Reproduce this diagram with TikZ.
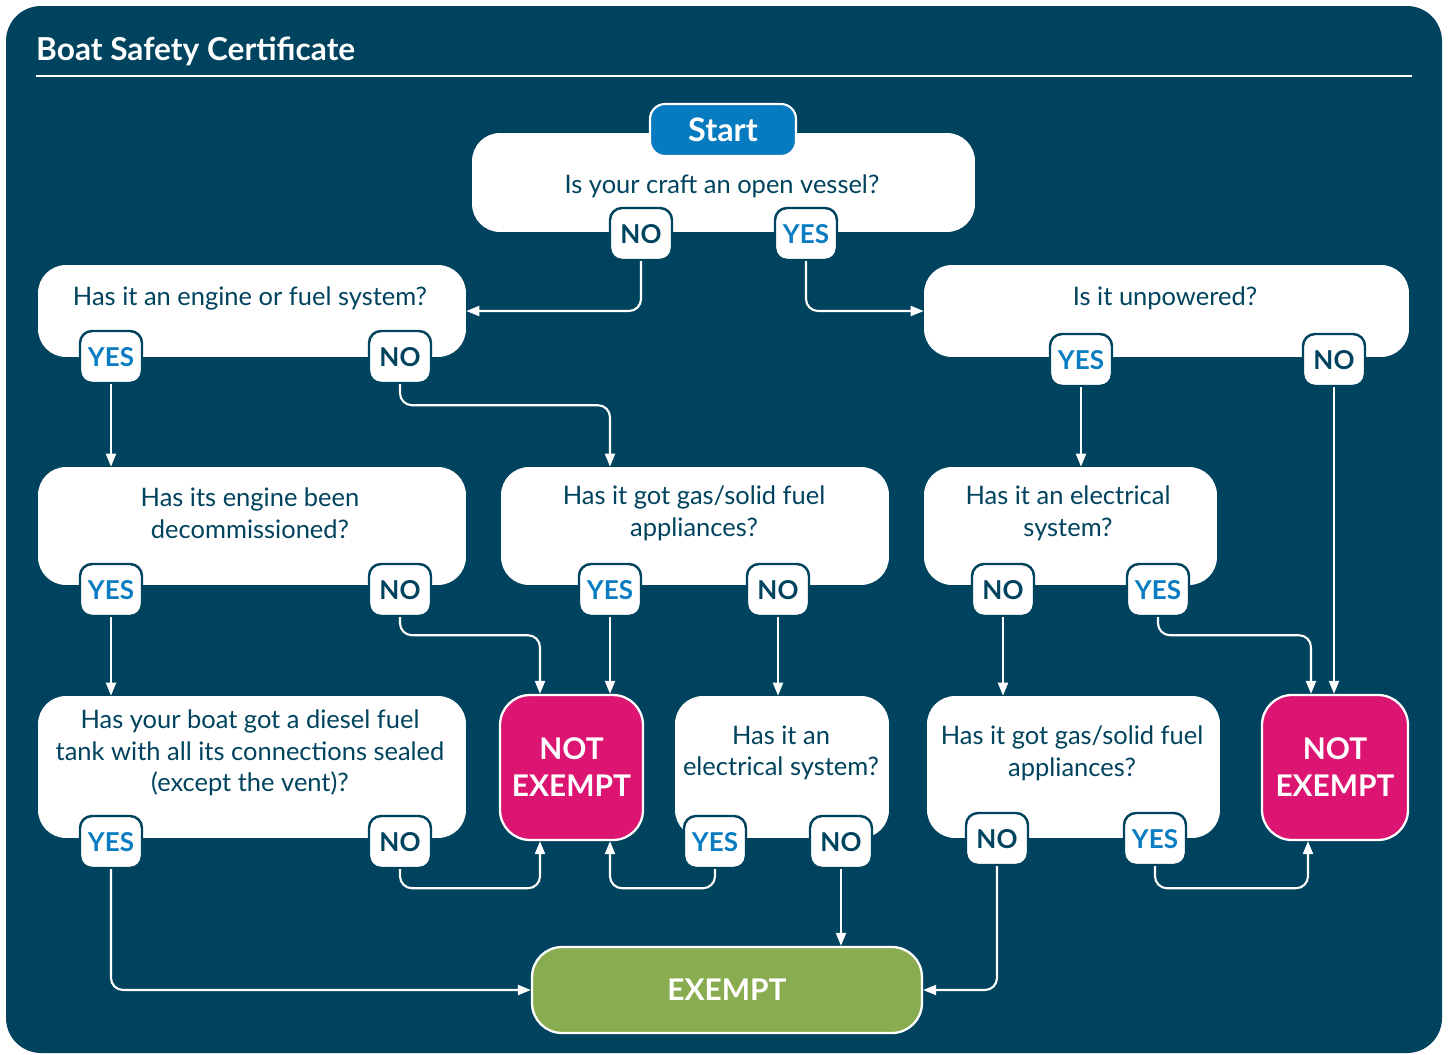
\documentclass[tikz,border=0pt]{standalone}
\usepackage{fontspec}
\setmainfont{Lato}
\usetikzlibrary{arrows.meta}

\definecolor{bgblue}{HTML}{00435E}
\definecolor{startblue}{HTML}{077BC0}
\definecolor{yesblue}{HTML}{0A7DC2}
\definecolor{nepink}{HTML}{DC1572}
\definecolor{exgreen}{HTML}{8AAC50}

\begin{document}
\begin{tikzpicture}[x=0.02cm,y=-0.02cm,
  qbox/.style={draw=none,fill=white,rounded corners=0.56cm},
  qtext/.style={text=bgblue,align=center,font=\fontsize{14.5}{18}\selectfont},
  tag/.style={draw=bgblue,line width=1.4pt,fill=white,rounded corners=0.24cm,
    minimum width=1.24cm,minimum height=1.04cm,inner sep=0pt,
    font=\bfseries\fontsize{14.8}{16}\selectfont},
  yestag/.style={tag,text=yesblue},
  notag/.style={tag,text=bgblue},
  endbox/.style={draw=white,line width=1.3pt,rounded corners=0.6cm,text=white,
    align=center,inner sep=0pt,font=\bfseries\fontsize{17}{21}\selectfont},
  link/.style={draw=white,line width=1.2pt,rounded corners=0.24cm,
    -{Triangle[length=0.26cm,width=0.2cm]}}]

\useasboundingbox (0,0) rectangle (1448,1055);
\fill[white] (0,0) rectangle (1448,1055);
\fill[bgblue,rounded corners=0.7cm] (6,6) rectangle (1442,1053);

% title
\node[anchor=west,text=white,font=\bfseries\fontsize{18}{22}\selectfont] (title) at (30,51) {Boat Safety Certificate};
\draw[white,line width=1.2pt] (36,76) -- (1412,76);

% questions
\node[qbox,minimum width=10.06cm,minimum height=1.98cm] (q1) at (723.5,182.5) {};
\node[qtext] (q1t) at (722,186) {Is your craft an open vessel?};
\node[draw=white,line width=1.2pt,fill=startblue,rounded corners=0.3cm,minimum width=2.92cm,
  minimum height=1.04cm,text=white,font=\bfseries\fontsize{18.4}{22}\selectfont] (start) at (723,130) {Start};

\node[qbox,minimum width=8.56cm,minimum height=1.84cm] (q2) at (252,311) {};
\node[qtext] (q2t) at (250,298) {Has it an engine or fuel system?};
\node[qbox,minimum width=9.7cm,minimum height=1.84cm] (q3) at (1166.5,311) {};
\node[qtext] (q3t) at (1165,298) {Is it unpowered?};

\node[qbox,minimum width=8.56cm,minimum height=2.36cm] (q4) at (252,526) {};
\node[qtext] (q4t) at (250,513) {Has its engine been\\decommissioned?};
\node[qbox,minimum width=7.76cm,minimum height=2.36cm] (q5) at (695,526) {};
\node[qtext] (q5t) at (694,513) {Has it got gas/solid fuel\\appliances?};
\node[qbox,minimum width=5.86cm,minimum height=2.36cm] (q6) at (1070.5,526) {};
\node[qtext] (q6t) at (1068,513) {Has it an electrical\\system?};

\node[qbox,minimum width=8.56cm,minimum height=2.84cm] (q7) at (252,767) {};
\node[qtext] (q7t) at (250,753) {Has your boat got a diesel fuel\\tank with all its connections sealed\\(except the vent)?};
\node[qbox,minimum width=4.28cm,minimum height=2.84cm] (q8) at (782,767) {};
\node[qtext] (q8t) at (781,753) {Has it an\\electrical system?};
\node[qbox,minimum width=5.86cm,minimum height=2.84cm] (q9) at (1073.5,767) {};
\node[qtext] (q9t) at (1072,753) {Has it got gas/solid fuel\\appliances?};

% outcomes
\node[endbox,fill=nepink,minimum width=2.86cm,minimum height=2.9cm] (ne1) at (571.5,767.5) {NOT\\EXEMPT};
\node[endbox,fill=nepink,minimum width=2.92cm,minimum height=2.9cm] (ne2) at (1335,767.5) {NOT\\EXEMPT};
\node[endbox,fill=exgreen,minimum width=7.8cm,minimum height=1.72cm] (ex) at (727,990) {EXEMPT};

% answers
\node[notag] (q1no) at (641,234) {NO};
\node[yestag] (q1yes) at (806,234) {YES};
\node[yestag] (q2yes) at (111,357) {YES};
\node[notag] (q2no) at (400,357) {NO};
\node[yestag] (q3yes) at (1081,360) {YES};
\node[notag] (q3no) at (1334,360) {NO};
\node[yestag] (q4yes) at (111,590) {YES};
\node[notag] (q4no) at (400,590) {NO};
\node[yestag] (q5yes) at (610,590) {YES};
\node[notag] (q5no) at (778,590) {NO};
\node[notag] (q6no) at (1003,590) {NO};
\node[yestag] (q6yes) at (1158,590) {YES};
\node[yestag] (q7yes) at (111,842) {YES};
\node[notag] (q7no) at (400,842) {NO};
\node[yestag] (q8yes) at (715,842) {YES};
\node[notag] (q8no) at (841,842) {NO};
\node[notag] (q9no) at (997,839) {NO};
\node[yestag] (q9yes) at (1155,839) {YES};

% links
\draw[link] (q1no.south) |- (q2.east);
\draw[link] (q1yes.south) |- (q3.west);
\draw[link] (q2yes.south) -- (q2yes.south |- q4.north);
\draw[link] (q2no.south) -- ++(0,21) -| (q5yes.north |- q5.north);
\draw[link] (q3yes.south) -- (q3yes.south |- q6.north);
\draw[link] (q3no.south) -- (q3no.south |- ne2.north);
\draw[link] (q4yes.south) -- (q4yes.south |- q7.north);
\draw[link] (q4no.south) -- ++(0,18) -| ([xshift=-0.63cm]ne1.north);
\draw[link] (q5yes.south) -- (q5yes.south |- ne1.north);
\draw[link] (q5no.south) -- (q5no.south |- q8.north);
\draw[link] (q6no.south) -- (q6no.south |- q9.north);
\draw[link] (q6yes.south) -- ++(0,18) -| ([xshift=-0.48cm]ne2.north);
\draw[link] (q7yes.south) |- (ex.west);
\draw[link] (q7no.south) -- ++(0,19) -| ([xshift=-0.63cm]ne1.south);
\draw[link] (q8yes.south) -- ++(0,19) -| (q5yes.south |- ne1.south);
\draw[link] (q8no.south) -- (q8no.south |- ex.north);
\draw[link] (q9no.south) |- (ex.east);
\draw[link] (q9yes.south) -- ++(0,22) -| ([xshift=-0.54cm]ne2.south);

\end{tikzpicture}
\end{document}
